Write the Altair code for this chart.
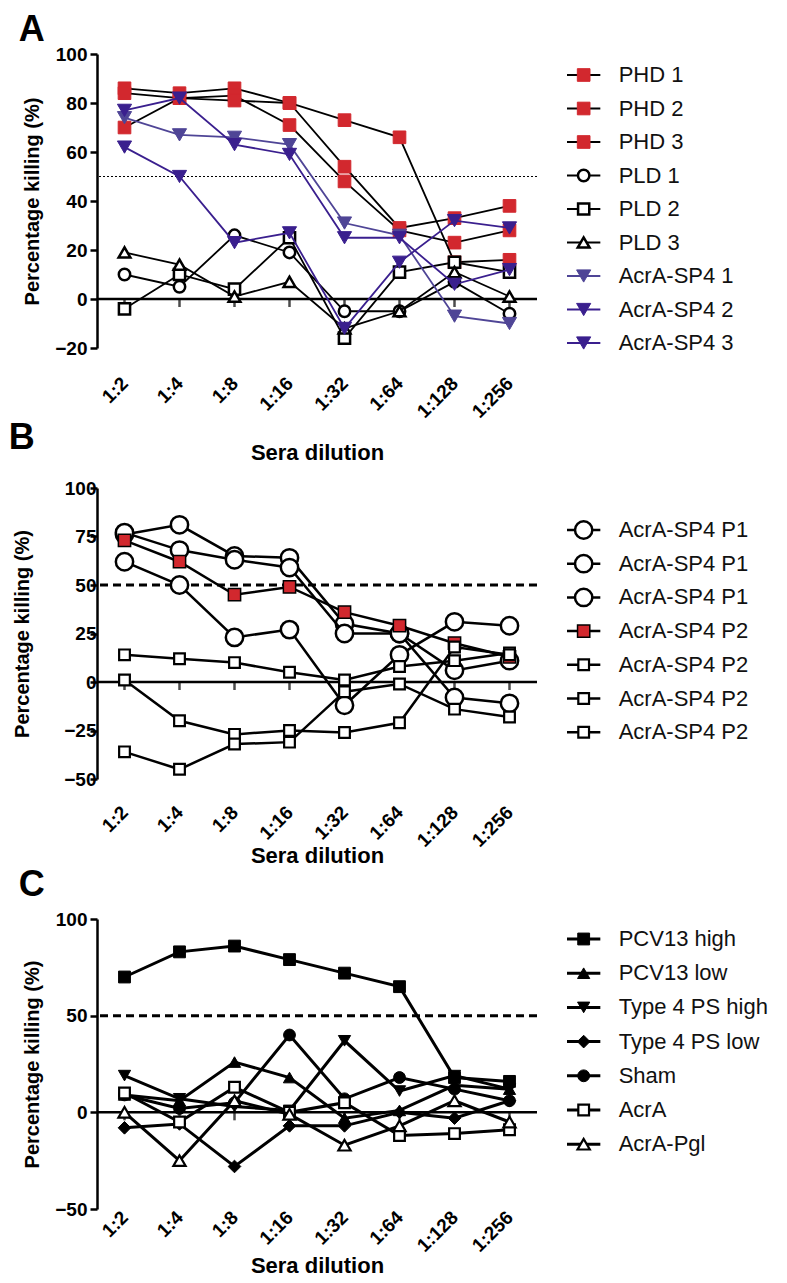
import altair as alt
import pandas as pd

FONT = "Liberation Sans"

# ---------------- data ----------------
dilutions = ["1:2", "1:4", "1:8", "1:16", "1:32", "1:64", "1:128", "1:256"]
threshold = [50]
zero_line = [0]

# Panel A
a_labels = ["PHD 1", "PHD 2", "PHD 3", "PLD 1", "PLD 2", "PLD 3",
            "AcrA-SP4 1", "AcrA-SP4 2", "AcrA-SP4 3"]
phd1 = [86, 84, 86, 80, 54, 29, 33, 38]
phd2 = [84, 82, 83, 71, 48, 28, 23, 28]
phd3 = [70, 82, 81, 80, 73, 66, 15, 16]
pld1 = [10, 5, 26, 19, -5, -5, 7, -6]
pld2 = [-4, 10, 4, 25, -16, 11, 15, 11]
pld3 = [19, 14, 1, 7, -12, -5, 11, 1]
sp4_1 = [74, 67, 66, 63, 31, 26, -7, -10]
sp4_2 = [77, 82, 63, 59, 25, 25, 6, 12]
sp4_3 = [62, 50, 23, 27, -12, 15, 32, 29]

# Panel B
b_labels = ["AcrA-SP4 P1", "AcrA-SP4 P1", "AcrA-SP4 P1", "AcrA-SP4 P2",
            "AcrA-SP4 P2", "AcrA-SP4 P2", "AcrA-SP4 P2"]
p1_a = [76, 81, 65, 64, 30, 25, -8, -11]
p1_b = [77, 68, 63, 59, 25, 25, 6, 11]
p1_c = [62, 50, 23, 27, -12, 14, 31, 29]
p2_a = [73, 62, 45, 49, 36, 29, 20, 13]
p2_b = [14, 12, 10, 5, 1, 8, 11, 15]
p2_c = [1, -20, -27, -25, -26, -21, 18, 14]
p2_d = [-36, -45, -32, -31, -5, -1, -14, -18]

# Panel C
c_labels = ["PCV13 high", "PCV13 low", "Type 4 PS high", "Type 4 PS low",
            "Sham", "AcrA", "AcrA-Pgl"]
pcv_high = [70, 83, 86, 79, 72, 65, 18, 16]
pcv_low = [9, 6, 26, 18, -3, 1, 14, 12]
t4_high = [19, 7, 3, 1, 37, 11, 19, 12]
t4_low = [-8, -6, -28, -7, -7, 0, -3, 6]
sham = [9, 2, 5, 40, 7, 18, 12, 6]
acra = [10, -5, 13, 0, 5, -12, -11, -9]
acra_pgl = [0, -25, 6, -1, -17, -7, 6, -5]

# ---------------- styles ----------------
RED = "#D2282E"
PURPLE_L = "#4F4596"
PURPLE_D = "#3A1F8E"
K = "#000000"
W = "#FFFFFF"

style_a = dict(
    lcol=[K, K, K, K, K, K, PURPLE_L, PURPLE_D, PURPLE_D],
    shape=["square"] * 3 + ["circle", "square", "triangle-up"] + ["triangle-down"] * 3,
    fill=[RED] * 3 + [W] * 3 + [PURPLE_L, PURPLE_D, PURPLE_D],
    stroke=[RED] * 3 + [K] * 3 + [PURPLE_L, PURPLE_D, PURPLE_D],
    size=[160] * 3 + [130, 125, 140] + [200] * 3,
    sw=[1] * 3 + [2.5] * 3 + [1] * 3,
    lw=1.8, ydom=[-20, 100], yticks=[-20, 0, 20, 40, 60, 80, 100], height=294,
    ylabpad=3, ytitlepad=12, xlabpad=32, xtitlepad=21,
    refdash=[2, 2], refw=1.2, toff=-4,
    lstep=33.5, lfirst=21,
)
style_b = dict(
    lcol=[K] * 7,
    shape=["circle"] * 3 + ["square"] * 4,
    fill=[W] * 3 + [RED] + [W] * 3,
    stroke=[K] * 7,
    size=[300] * 3 + [150] + [115] * 3,
    sw=[2.5] * 3 + [1.5] + [2.2] * 3,
    lw=2.5, ydom=[-50, 100], yticks=[-50, -25, 0, 25, 50, 75, 100], height=291,
    ylabpad=-6, ytitlepad=31, xlabpad=30, xtitlepad=-5,
    refdash=[8, 5], refw=3, toff=22,
    lstep=33.7, lfirst=42,
)
style_c = dict(
    lcol=[K] * 7,
    shape=["square", "triangle-up", "triangle-down", "diamond", "circle", "square", "triangle-up"],
    fill=[K] * 5 + [W] * 2,
    stroke=[K] * 7,
    size=[140, 150, 150, 160, 140, 115, 150],
    sw=[1] * 5 + [2.2] * 2,
    lw=3, ydom=[-50, 100], yticks=[-50, 0, 50, 100], height=290,
    ylabpad=3, ytitlepad=12, xlabpad=5, xtitlepad=0,
    refdash=[8, 5], refw=3, toff=6,
    lstep=34.2, lfirst=20,
)


def long_df(keys, values):
    rows = []
    for k, vals in zip(keys, values):
        for j, (d, v) in enumerate(zip(dilutions, vals)):
            rows.append({"series": k, "dil": d, "idx": j, "value": v})
    return pd.DataFrame(rows)


def build_panel(letter, labels, values, st):
    keys = [f"s{i}" for i in range(len(labels))]
    df = long_df(keys, values)

    xenc = alt.X(
        "dil:O", sort=dilutions,
        scale=alt.Scale(type="point", padding=0.5),
        axis=alt.Axis(title="Sera dilution", labelAngle=315, labelAlign="right",
                      labelBaseline="middle", labelFontSize=19, labelFontWeight="bold",
                      labelPadding=st["xlabpad"], titleFontSize=22, titleFontWeight="bold",
                      titlePadding=st["xtitlepad"], domain=False, ticks=False),
    )
    yscale = alt.Scale(domain=st["ydom"], nice=False, zero=False)
    yaxis = alt.Axis(values=st["yticks"], title="Percentage killing (%)",
                     titleFontSize=20, titleFontWeight="bold", titlePadding=st["ytitlepad"],
                     labelFontSize=19, labelFontWeight="bold", labelPadding=st["ylabpad"],
                     domainWidth=2.5, tickWidth=2.5, tickSize=7, grid=False)
    Y = alt.Y("value:Q", scale=yscale, axis=yaxis)

    layers = [
        alt.Chart(pd.DataFrame({"value": threshold})).mark_rule(
            color="black", strokeWidth=st["refw"], strokeDash=st["refdash"]).encode(y=Y),
        alt.Chart(pd.DataFrame({"value": zero_line})).mark_rule(
            color="black", strokeWidth=2.5).encode(y=Y),
        alt.Chart(pd.DataFrame({"dil": dilutions, "value": zero_line * len(dilutions)})).mark_tick(
            orient="vertical", size=8, thickness=2.5, yOffset=4, color="black").encode(x=xenc, y=Y),
    ]
    for j, k in enumerate(keys):
        sub = df[df.series == k]
        layers.append(alt.Chart(sub).mark_line(color=st["lcol"][j], strokeWidth=st["lw"]).encode(
            x=xenc, y=Y, order="idx:Q"))
        layers.append(alt.Chart(sub).mark_point(
            shape=st["shape"][j], filled=True, fill=st["fill"][j], stroke=st["stroke"][j],
            size=st["size"][j], strokeWidth=st["sw"][j], opacity=1, fillOpacity=1,
            strokeOpacity=1).encode(x=xenc, y=Y))

    H = st["height"]
    plot = alt.layer(*layers).properties(
        width=440, height=H,
        title=alt.TitleParams(letter, anchor="start", frame="bounds", fontSize=36,
                              fontWeight="bold", font=FONT, color="black",
                              dx=-4, offset=st["toff"]),
    )

    # legend (same height as the plot so rows of the grid stay aligned)
    n = len(keys)
    ldf = pd.DataFrame({"key": keys, "label": labels, "i": list(range(n))})
    d0 = -st["lfirst"] / st["lstep"]
    ly = alt.Y("i:Q", scale=alt.Scale(domain=[d0, d0 + H / st["lstep"]], reverse=True,
                                      nice=False, zero=False), axis=None)
    xs = alt.Scale(domain=[0, 6], nice=False, zero=False)
    llayers = []
    for j, k in enumerate(keys):
        sub = ldf[ldf.key == k]
        llayers.append(alt.Chart(sub).mark_rule(color=st["lcol"][j], strokeWidth=st["lw"]).encode(
            x=alt.XDatum(0, scale=xs, axis=None), x2=alt.X2Datum(1), y=ly))
        llayers.append(alt.Chart(sub).mark_point(
            shape=st["shape"][j], filled=True, fill=st["fill"][j], stroke=st["stroke"][j],
            size=st["size"][j], strokeWidth=st["sw"][j], opacity=1).encode(
            x=alt.XDatum(0.5, scale=xs, axis=None), y=ly))
    llayers.append(alt.Chart(ldf).mark_text(
        align="left", baseline="middle", fontSize=22, font=FONT, color="#111111").encode(
        x=alt.XDatum(1.55, scale=xs, axis=None), y=ly, text="label:N"))
    legend = alt.layer(*llayers).properties(width=200, height=H)

    return plot, legend


pa, la = build_panel("A", a_labels, [phd1, phd2, phd3, pld1, pld2, pld3, sp4_1, sp4_2, sp4_3], style_a)
pb, lb = build_panel("B", b_labels, [p1_a, p1_b, p1_c, p2_a, p2_b, p2_c, p2_d], style_b)
pc, lc = build_panel("C", c_labels, [pcv_high, pcv_low, t4_high, t4_low, sham, acra, acra_pgl], style_c)

chart = alt.concat(pa, la, pb, lb, pc, lc, columns=2, bounds="flush",
                   spacing={"row": 140, "column": 30}).properties(
    padding={"left": 0, "top": 4, "right": 0, "bottom": 0}
).configure(font=FONT).configure_view(stroke=None).configure_axis(
    domainColor="black", tickColor="black", labelColor="black", titleColor="black",
    labelFont=FONT, titleFont=FONT, grid=False
)

chart.save("out.html", embed_options={"renderer": "svg", "actions": False})
